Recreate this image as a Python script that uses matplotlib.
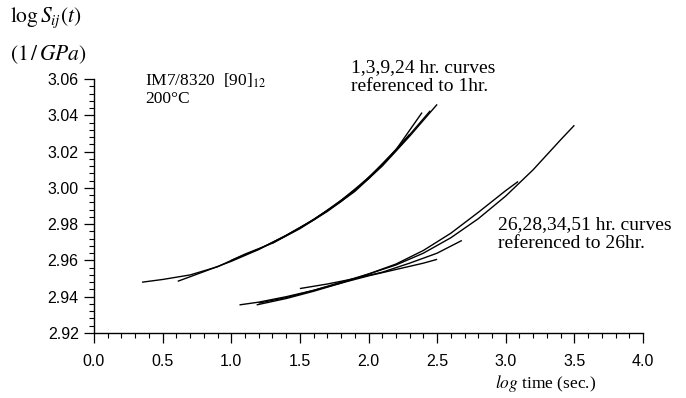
import matplotlib
matplotlib.use("Agg")
import matplotlib.pyplot as plt
from matplotlib.ticker import MultipleLocator, FormatStrFormatter

plt.rcParams["mathtext.fontset"] = "stix"

# Master curves at 200 C, group referenced to 1 hr
c1hr_x = [0.35, 0.5, 0.7, 0.9, 1.1, 1.3, 1.5, 1.7, 1.9, 2.1, 2.3, 2.5]
c1hr_y = [2.948, 2.9495, 2.952, 2.9565, 2.9635, 2.9695, 2.9775, 2.987, 2.998, 3.012, 3.0285, 3.046]
c3hr_x = [0.61, 0.8, 1.0, 1.2, 1.4, 1.6, 1.8, 2.0, 2.2, 2.39]
c3hr_y = [2.9485, 2.9538, 2.9595, 2.966, 2.9738, 2.9825, 2.993, 3.0055, 3.021, 3.0415]
c9hr_x = [1.0, 1.2, 1.4, 1.6, 1.8, 2.0, 2.2, 2.45]
c9hr_y = [2.960, 2.9662, 2.9738, 2.9823, 2.9925, 3.005, 3.0205, 3.0425]
c24hr_x = [1.3, 1.5, 1.7, 1.9, 2.1, 2.3]
c24hr_y = [2.9695, 2.9778, 2.9875, 2.9988, 3.0128, 3.0295]

# Group referenced to 26 hr
c26hr_x = [1.06, 1.2, 1.4, 1.6, 1.8, 2.0, 2.2, 2.4, 2.6, 2.8, 3.0, 3.2, 3.4, 3.5]
c26hr_y = [2.9355, 2.937, 2.940, 2.9435, 2.948, 2.9525, 2.9575, 2.964, 2.9725, 2.983, 2.9955, 3.010, 3.0265, 3.0345]
c28hr_x = [1.185, 1.4, 1.6, 1.8, 2.0, 2.2, 2.4, 2.6, 2.8, 3.0, 3.09]
c28hr_y = [2.9355, 2.939, 2.943, 2.9475, 2.9525, 2.958, 2.9655, 2.975, 2.9865, 2.9985, 3.0035]
c34hr_x = [1.5, 1.7, 1.9, 2.1, 2.3, 2.5, 2.68]
c34hr_y = [2.9445, 2.947, 2.950, 2.9535, 2.9585, 2.964, 2.971]
c51hr_x = [1.2, 1.4, 1.6, 1.8, 2.0, 2.2, 2.4, 2.5]
c51hr_y = [2.9365, 2.9395, 2.9435, 2.9475, 2.9515, 2.955, 2.9585, 2.9606]

curves = [
    (c1hr_x, c1hr_y), (c3hr_x, c3hr_y), (c9hr_x, c9hr_y), (c24hr_x, c24hr_y),
    (c26hr_x, c26hr_y), (c28hr_x, c28hr_y), (c34hr_x, c34hr_y), (c51hr_x, c51hr_y),
]

W, H = 686, 398
fig = plt.figure(figsize=(W / 100, H / 100), dpi=100)
ax = fig.add_axes([94 / W, (H - 333) / H, (643 - 94) / W, (333 - 79) / H])

for xs, ys in curves:
    ax.plot(xs, ys, color="black", lw=1.0, solid_capstyle="butt")

ax.set_xlim(0.0, 4.0)
ax.set_ylim(2.92, 3.06)
for s in ("top", "right"):
    ax.spines[s].set_visible(False)
for s in ("left", "bottom"):
    ax.spines[s].set_linewidth(1.0)

ax.xaxis.set_major_locator(MultipleLocator(0.5))
ax.xaxis.set_minor_locator(MultipleLocator(0.1))
ax.yaxis.set_major_locator(MultipleLocator(0.02))
ax.yaxis.set_minor_locator(MultipleLocator(0.004))
ax.xaxis.set_major_formatter(FormatStrFormatter("%.1f"))
ax.yaxis.set_major_formatter(FormatStrFormatter("%.2f"))
ax.tick_params(which="major", direction="out", length=7, width=0.9)
ax.tick_params(which="minor", direction="out", length=3.5, width=0.8)
ax.tick_params(axis="x", which="major", pad=8)
ax.tick_params(axis="y", which="major", pad=4)
for lab in ax.get_xticklabels() + ax.get_yticklabels():
    lab.set_fontfamily("Liberation Sans")
    lab.set_fontsize(11.5)

serif = "Liberation Serif"

def ftext(px, py, s, **kw):
    fig.text(px / W, 1 - py / H, s, **kw)

ftext(10, 18, r"$\log S_{ij}(t)$", fontsize=15.5, va="center", ha="left")
ftext(10, 55, r"$(1\,/\,GPa)$", fontsize=15.5, va="center", ha="left")
ftext(145, 81, r"IM7/8320  [90]$_{12}$", fontsize=12.5, family=serif, va="center", ha="left")
ftext(145, 99, "200\u00b0C", fontsize=12.5, family=serif, va="center", ha="left")
ftext(351, 77, "1,3,9,24 hr. curves\nreferenced to 1hr.", fontsize=14, family=serif,
      va="center", ha="left", multialignment="left", linespacing=1.2)
ftext(498, 234, "26,28,34,51 hr. curves\nreferenced to 26hr.", fontsize=14, family=serif,
      va="center", ha="left", linespacing=1.2)
ftext(546, 383, r"$\mathit{log}$ time (sec.)", fontsize=12.5, family=serif,
      va="center", ha="center")

fig.savefig("out.png", dpi=100)
